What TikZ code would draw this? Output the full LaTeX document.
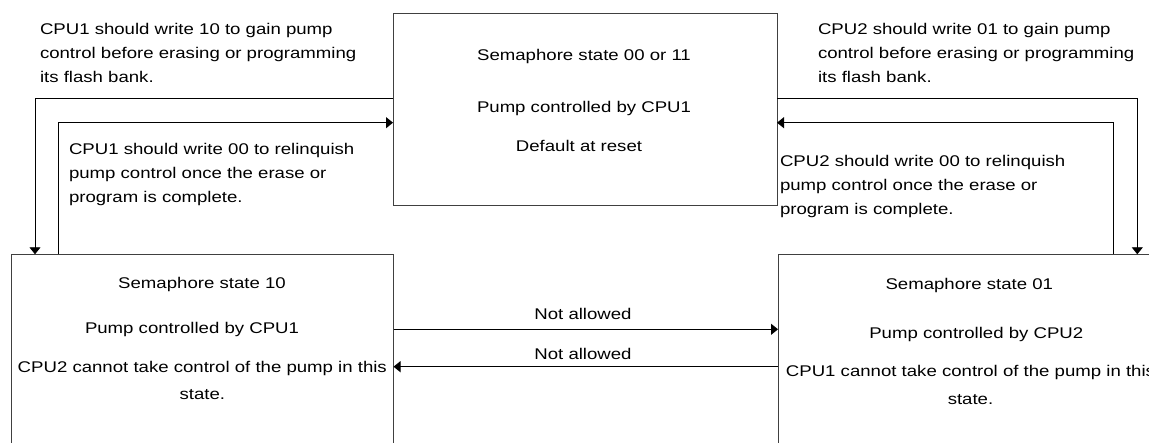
\documentclass[tikz,border=0pt]{standalone}
\usepackage{fontspec}
\setmainfont{Liberation Sans}[FakeStretch=1.2]
\usetikzlibrary{arrows.meta}
\begin{document}
\begin{tikzpicture}[x=1pt,y=-1pt,
  box/.style={draw=black!75, line width=1pt, outer sep=0pt, inner sep=0pt},
  txt/.style={inner sep=0pt, outer sep=0pt, font=\fontsize{15.5}{24}\selectfont, text=black},
  boxtxt/.style={txt, align=center, font=\fontsize{15.5}{27.5}\selectfont},
  conn/.style={draw=black, line width=0.9pt, -{Triangle[length=7pt,width=11pt]}},
]
\useasboundingbox (0,0) rectangle (1149,443);
\clip (0,0) rectangle (1149,443);

% state boxes
\node[box, minimum width=384pt, minimum height=192pt] (top) at (585,110) {};
\node[box, minimum width=382.5pt, minimum height=220pt] (left) at (202.25,364.3) {};
\node[box, minimum width=383pt, minimum height=220pt] (right) at (969.5,364.3) {};

% box texts
\node[txt, anchor=base] (t1) at (584,61) {Semaphore state 00 or 11};
\node[txt, anchor=base] (t2) at (584,112.7) {Pump controlled by CPU1};
\node[txt, anchor=base] (t3) at (579,151.7) {Default at reset};

\node[txt, anchor=base] (l1) at (202,289) {Semaphore state 10};
\node[txt, anchor=base] (l2) at (192,334) {Pump controlled by CPU1};
\node[boxtxt, anchor=north] (l3) at (202.3,360.9) {CPU2 cannot take control of the pump in this\\state.};

\node[txt, anchor=base] (r1) at (969.3,290) {Semaphore state 01};
\node[txt, anchor=base] (r2) at (976.3,339) {Pump controlled by CPU2};
\node[boxtxt, anchor=north] (r3) at (970.5,365.4) {CPU1 cannot take control of the pump in this\\state.};

% outer texts
\node[txt, anchor=north west, align=left] (c1a) at (40,22.9) {CPU1 should write 10 to gain pump\\control before erasing or programming\\its flash bank.};
\node[txt, anchor=north west, align=left] (c1b) at (69,142.9) {CPU1 should write 00 to relinquish\\pump control once the erase or\\program is complete.};
\node[txt, anchor=north west, align=left] (c2a) at (818,22.9) {CPU2 should write 01 to gain pump\\control before erasing or programming\\its flash bank.};
\node[txt, anchor=north west, align=left] (c2b) at (780,154.9) {CPU2 should write 00 to relinquish\\pump control once the erase or\\program is complete.};

% connector corner coordinates
\coordinate (a1) at (35,98.7);
\coordinate (a2) at (58.3,122.7);
\coordinate (b1) at (1137.3,98.7);
\coordinate (b2) at (1113.3,122.7);
\coordinate (m1) at (0,329.3);
\coordinate (m2) at (0,366.7);

\draw[conn] (top.west |- a1) -| (left.north -| a1);
\draw[conn] (left.north -| a2) |- (top.west |- a2);
\draw[conn] (top.east |- b1) -| (right.north -| b1);
\draw[conn] (right.north -| b2) |- (top.east |- b2);

\draw[conn] (left.east |- m1) -- (right.west |- m1);
\draw[conn] (right.west |- m2) -- (left.east |- m2);
\node[txt, anchor=base] (n1) at (583,320) {Not allowed};
\node[txt, anchor=base] (n2) at (583,360) {Not allowed};
\end{tikzpicture}
\end{document}
